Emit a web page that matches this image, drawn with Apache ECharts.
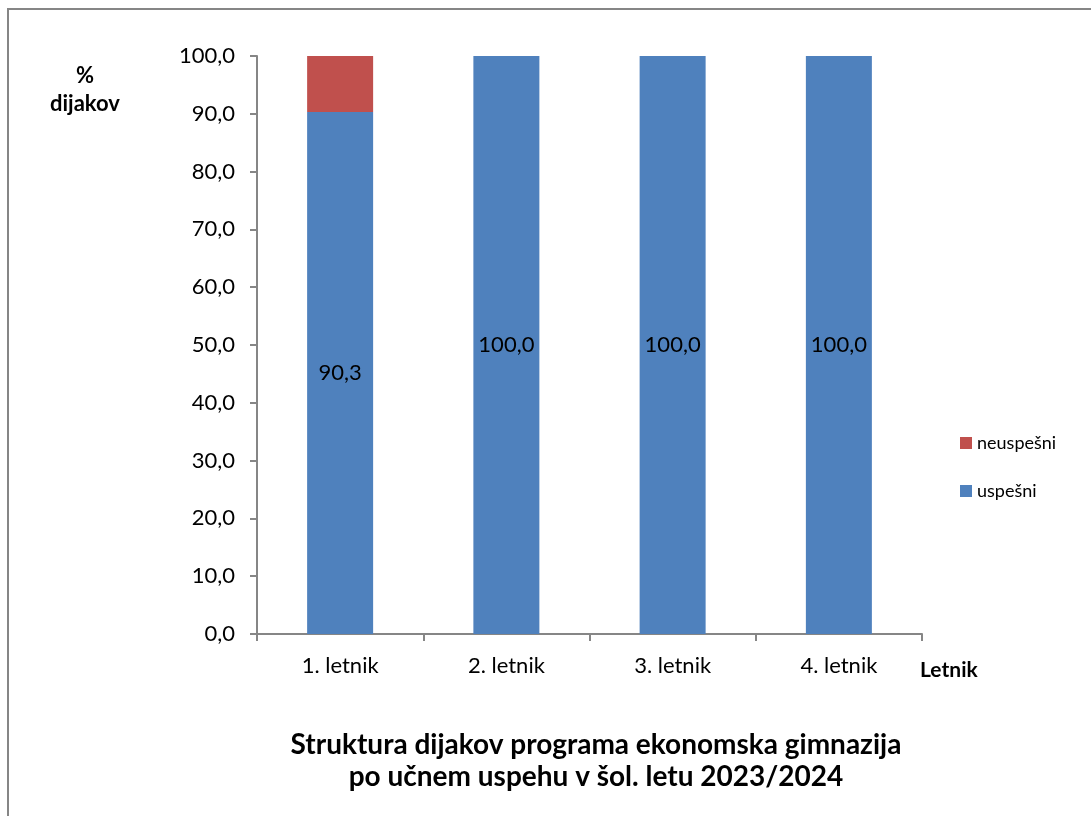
<!DOCTYPE html>
<html>
<head>
<meta charset="utf-8">
<script src="https://cdn.jsdelivr.net/npm/echarts@6/dist/echarts.min.js"></script>
<style>
html,body{margin:0;padding:0;background:#fff;}
#c{width:1091px;height:816px;}
</style>
</head>
<body>
<div id="c"></div>
<script>
const categories = ['1. letnik', '2. letnik', '3. letnik', '4. letnik'];
const uspesni = [90.3, 100.0, 100.0, 100.0];
const neuspesni = [9.7, 0, 0, 0];
const yTicks = { min: 0, max: 100, interval: 10 };

const FONT = 'Lato, "Open Sans", sans-serif';
const fmt = v => Number(v).toFixed(1).replace('.', ',');

const chart = echarts.init(document.getElementById('c'));
chart.setOption({
  backgroundColor: '#fff',
  animation: false,
  textStyle: { fontFamily: FONT },
  grid: { left: 257, right: 169, top: 56, bottom: 182 },
  graphic: [
    { type: 'rect', shape: { x: 8, y: 9, width: 1200, height: 900 },
      style: { fill: 'none', stroke: '#868686', lineWidth: 2 }, silent: true },
    { type: 'text', x: 85, y: 90,
      style: { text: '%\ndijakov', fontFamily: FONT, fontSize: 22, fontWeight: 'bold',
               fill: '#000', align: 'center', verticalAlign: 'middle', lineHeight: 28 } },
    { type: 'text', x: 920, y: 670,
      style: { text: 'Letnik', fontFamily: FONT, fontSize: 21, fontWeight: 'bold', fill: '#000',
               align: 'left', verticalAlign: 'middle' } },
    { type: 'text', x: 596, y: 761,
      style: { text: 'Struktura dijakov programa ekonomska gimnazija\npo učnem uspehu v šol. letu 2023/2024',
               fontFamily: FONT, fontSize: 28, fontWeight: 'bold', fill: '#000',
               align: 'center', verticalAlign: 'middle', lineHeight: 32 } }
  ],
  legend: {
    orient: 'vertical', left: 955, top: 429,
    data: ['neuspešni', 'uspešni'],
    icon: 'rect', itemWidth: 12, itemHeight: 12, itemGap: 30,
    textStyle: { fontFamily: FONT, fontSize: 18, color: '#000' }
  },
  xAxis: {
    type: 'category', data: categories,
    axisLine: { lineStyle: { color: '#868686', width: 2 } },
    axisTick: { show: true, length: 7, lineStyle: { color: '#868686', width: 2 } },
    axisLabel: { fontFamily: FONT, fontSize: 22, color: '#000', margin: 21 }
  },
  yAxis: {
    type: 'value', min: yTicks.min, max: yTicks.max, interval: yTicks.interval,
    splitLine: { show: false },
    axisLine: { show: true, lineStyle: { color: '#868686', width: 2 } },
    axisTick: { show: true, length: 7, lineStyle: { color: '#868686', width: 2 } },
    axisLabel: { fontFamily: FONT, fontSize: 22, color: '#000', margin: 22, formatter: fmt }
  },
  series: [
    {
      name: 'uspešni', type: 'bar', stack: 's', data: uspesni, barWidth: 66,
      itemStyle: { color: '#4F81BD' },
      label: { show: true, position: 'inside', formatter: p => fmt(p.value),
               fontFamily: FONT, fontSize: 22, color: '#000' }
    },
    {
      name: 'neuspešni', type: 'bar', stack: 's', data: neuspesni, barWidth: 66,
      itemStyle: { color: '#C0504D' }
    }
  ]
});
</script>
</body>
</html>
